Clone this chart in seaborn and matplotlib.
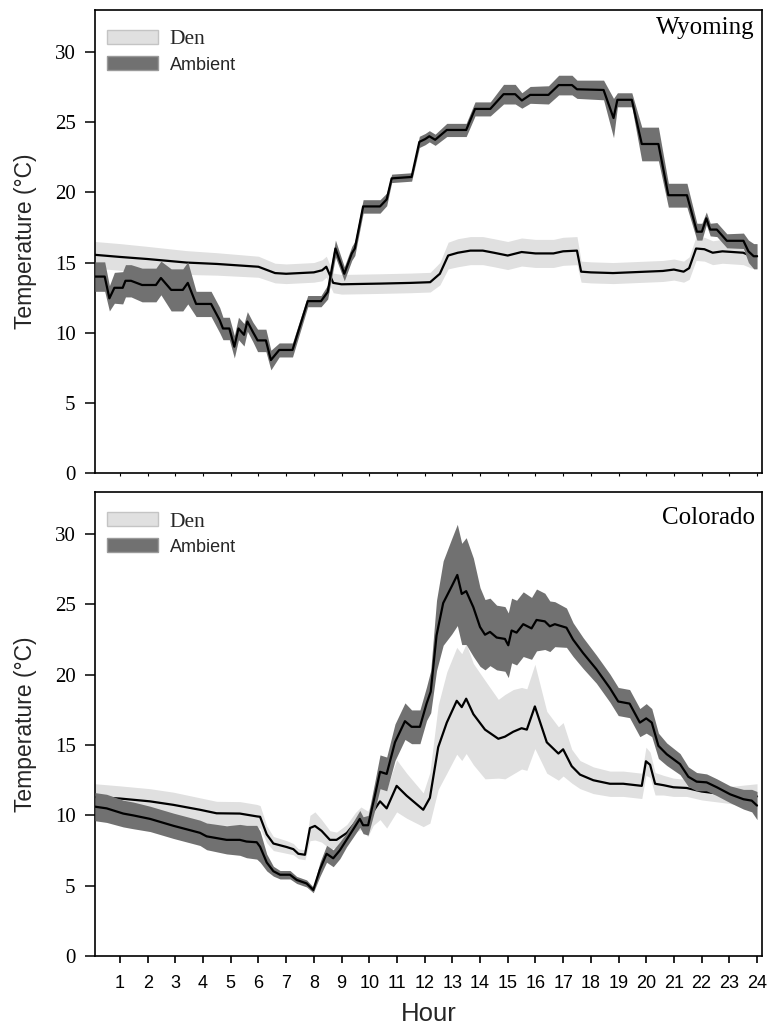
import numpy as np
import pandas as pd
import matplotlib
matplotlib.use("Agg")
import matplotlib.pyplot as plt
import seaborn as sns
from matplotlib.patches import Patch
from matplotlib import font_manager

# ---------------- data ----------------
panel_names = ["Wyoming", "Colorado"]
series_names = ["Den", "Ambient"]
y_ticks = [0, 5, 10, 15, 20, 25, 30]
x_ticks = list(range(1, 25))
x_tick_labels = [str(h) for h in x_ticks]

# Wyoming - Den
wy_den_hour = [0.1, 1.0, 2.0, 3.4, 4.5, 6.0, 6.6, 7.0, 8.0, 8.3, 8.45, 8.7, 9.0, 10.4, 11.5, 12.2,
               12.55, 12.85, 13.2, 13.65, 14.1, 14.5, 15.0, 15.5, 16.0, 16.65, 17.0, 17.5, 17.65,
               18.0, 18.8, 20.0, 20.6, 21.0, 21.35, 21.55, 21.8, 22.1, 22.4, 22.75, 23.5, 23.8, 24.0]
wy_den_mean = [15.55, 15.4, 15.25, 15.0, 14.9, 14.7, 14.25, 14.2, 14.3, 14.45, 14.7, 13.55, 13.45,
               13.5, 13.55, 13.6, 14.2, 15.5, 15.7, 15.85, 15.85, 15.7, 15.5, 15.75, 15.65, 15.65,
               15.8, 15.85, 14.35, 14.3, 14.25, 14.35, 14.4, 14.5, 14.35, 14.6, 16.0, 15.95, 15.7,
               15.8, 15.7, 15.45, 15.45]
wy_den_sd = [0.95, 0.95, 0.9, 0.85, 0.8, 0.75, 0.7, 0.7, 0.7, 0.75, 0.75, 0.7, 0.7, 0.7, 0.7, 0.7,
             0.8, 0.95, 1.0, 1.0, 1.0, 1.0, 1.0, 1.0, 1.0, 1.0, 1.0, 1.0, 0.75, 0.75, 0.75, 0.75,
             0.75, 0.75, 0.75, 0.8, 0.85, 0.85, 0.85, 0.85, 0.85, 0.85, 0.85]

# Wyoming - Ambient
wy_amb_hour = [0.1, 0.45, 0.62, 0.8, 1.1, 1.2, 1.4, 1.8, 2.3, 2.48, 2.85, 3.27, 3.45, 3.75, 4.29,
               4.6, 4.72, 4.95, 5.13, 5.28, 5.48, 5.6, 5.8, 5.97, 6.27, 6.45, 6.75, 7.23, 7.78,
               8.26, 8.5, 8.78, 9.1, 9.37, 9.48, 9.78, 10.39, 10.63, 10.81, 11.53, 11.81, 12.02,
               12.17, 12.38, 12.8, 13.5, 13.82, 14.37, 14.85, 15.27, 15.51, 15.81, 16.47, 16.84,
               17.32, 17.5, 18.46, 18.82, 18.96, 19.48, 19.84, 20.44, 20.8, 21.47, 21.83, 22.01,
               22.17, 22.31, 22.55, 22.91, 23.51, 23.69, 23.88, 24.0]
wy_amb_mean = [14.0, 14.0, 12.45, 13.2, 13.2, 13.7, 13.7, 13.4, 13.4, 13.9, 13.05, 13.05, 13.55,
               12.05, 12.05, 10.9, 10.3, 10.3, 9.0, 10.3, 9.85, 10.8, 10.05, 9.45, 9.45, 8.05,
               8.77, 8.77, 12.25, 12.25, 12.9, 16.0, 14.2, 15.65, 16.0, 19.0, 19.0, 19.5, 21.0,
               21.1, 23.6, 23.8, 24.0, 23.75, 24.45, 24.45, 25.95, 25.95, 27.0, 27.0, 26.55,
               26.95, 26.95, 27.65, 27.65, 27.35, 27.3, 25.3, 26.6, 26.6, 23.45, 23.45, 19.8,
               19.8, 17.2, 17.2, 18.15, 17.35, 17.35, 16.55, 16.55, 15.8, 15.45, 15.45]
wy_amb_sd = [1.05, 1.05, 0.9, 1.1, 1.15, 1.15, 1.15, 1.2, 1.2, 1.2, 1.5, 1.5, 1.5, 0.9, 0.9,
             0.9, 0.8, 0.8, 0.8, 0.8, 0.8, 0.7, 0.7, 0.8, 0.8, 0.7, 0.5, 0.5, 0.4, 0.4, 0.5,
             0.6, 0.5, 0.5, 0.5, 0.48, 0.48, 0.45, 0.3, 0.3, 0.4, 0.4, 0.4, 0.4, 0.47, 0.47,
             0.5, 0.5, 0.7, 0.7, 0.55, 0.6, 0.65, 0.7, 0.7, 0.65, 0.7, 1.4, 0.5, 0.5, 1.2, 1.2,
             0.85, 0.85, 0.6, 0.6, 0.45, 0.45, 0.5, 0.5, 0.55, 0.8, 0.9, 0.9]

# Colorado - Den
co_den_hour = [0.1, 1.0, 2.08, 2.93, 3.89, 4.49, 5.33, 5.94, 6.06, 6.3, 6.54, 7.02, 7.26, 7.44,
               7.68, 7.86, 8.04, 8.28, 8.58, 8.82, 9.19, 9.5, 9.7, 9.95, 10.15, 10.39, 10.63,
               10.99, 11.35, 11.95, 12.19, 12.49, 12.8, 13.16, 13.34, 13.5, 13.76, 14.18, 14.66,
               14.9, 15.2, 15.5, 15.69, 15.98, 16.41, 16.83, 17.0, 17.31, 17.61, 18.09, 18.69,
               19.17, 19.84, 19.99, 20.14, 20.32, 20.62, 20.98, 21.46, 22.0, 23.0, 24.0]
co_den_mean = [11.3, 11.2, 11.0, 10.75, 10.4, 10.15, 10.13, 9.93, 9.9, 8.65, 8.0, 7.75, 7.6,
               7.27, 7.2, 9.1, 9.25, 8.9, 8.26, 8.26, 8.75, 9.5, 9.8, 9.4, 10.3, 11.0, 10.5,
               12.1, 11.4, 10.4, 11.25, 14.85, 16.6, 18.15, 17.7, 18.3, 17.2, 16.1, 15.45, 15.6,
               15.95, 16.2, 16.1, 17.75, 15.2, 14.4, 14.7, 13.5, 12.9, 12.5, 12.25, 12.25, 12.1,
               13.85, 13.6, 12.25, 12.15, 12.0, 11.95, 11.7, 11.45, 11.35]
co_den_sd = [0.95, 0.9, 0.9, 0.9, 0.85, 0.85, 0.85, 0.85, 0.8, 0.6, 0.5, 0.45, 0.4, 0.35, 0.35,
             0.9, 1.0, 0.8, 0.65, 0.55, 0.6, 0.7, 0.8, 0.9, 1.0, 1.3, 1.4, 1.85, 1.6, 1.2, 1.8,
             3.0, 3.6, 3.8, 3.8, 3.9, 3.6, 3.5, 2.8, 3.0, 3.0, 2.9, 2.9, 3.0, 2.2, 1.9, 1.9, 1.2,
             1.0, 0.95, 0.9, 0.9, 0.9, 1.0, 0.9, 0.8, 0.7, 0.65, 0.6, 0.6, 0.6, 0.9]

# Colorado - Ambient
co_amb_hour = [0.1, 0.52, 1.12, 1.48, 2.09, 2.93, 3.89, 4.13, 4.85, 5.33, 5.57, 5.94, 6.06, 6.3,
               6.54, 6.78, 7.14, 7.38, 7.74, 7.98, 8.22, 8.46, 8.7, 8.94, 9.18, 9.42, 9.66, 9.78,
               9.96, 10.2, 10.39, 10.63, 10.93, 11.29, 11.53, 11.83, 12.07, 12.22, 12.43, 12.67,
               12.98, 13.18, 13.34, 13.5, 13.76, 14.0, 14.18, 14.36, 14.6, 14.9, 15.02, 15.14,
               15.32, 15.56, 15.86, 16.04, 16.34, 16.52, 16.7, 17.12, 17.36, 17.72, 18.2, 18.69,
               18.99, 19.4, 19.77, 20.0, 20.2, 20.44, 20.74, 21.22, 21.52, 21.82, 22.18, 22.55,
               23.03, 23.51, 23.81, 24.0]
co_amb_mean = [10.62, 10.5, 10.13, 10.0, 9.75, 9.26, 8.76, 8.51, 8.26, 8.26, 8.14, 8.09, 7.77,
               6.65, 6.03, 5.78, 5.78, 5.41, 5.16, 4.7, 6.16, 7.27, 6.95, 7.52, 8.26, 9.0, 9.75,
               9.3, 9.3, 11.37, 13.1, 12.95, 15.2, 16.7, 16.3, 16.3, 17.95, 18.8, 22.8, 25.1,
               26.3, 27.1, 25.75, 25.95, 24.8, 23.4, 22.85, 23.05, 22.65, 22.55, 22.1, 23.15,
               23.0, 23.6, 23.3, 23.9, 23.8, 23.45, 23.6, 23.35, 22.5, 21.55, 20.4, 19.05, 18.1,
               17.95, 16.6, 16.9, 16.6, 14.95, 14.35, 13.65, 12.75, 12.4, 12.35, 12.0, 11.5,
               11.15, 11.05, 10.7]
co_amb_sd = [1.0, 1.0, 0.95, 0.95, 0.9, 0.9, 0.9, 0.95, 1.0, 1.1, 1.15, 1.2, 1.1, 0.6, 0.35, 0.3,
             0.3, 0.25, 0.25, 0.2, 0.5, 0.6, 0.6, 0.6, 0.5, 0.55, 0.6, 0.6, 0.7, 1.0, 1.2, 1.2,
             1.3, 1.3, 1.2, 1.2, 1.2, 1.5, 2.5, 3.0, 3.4, 3.6, 3.6, 3.8, 3.5, 2.8, 2.5, 2.4, 2.3,
             2.3, 2.3, 2.3, 2.3, 2.3, 2.2, 2.2, 2.0, 1.8, 1.6, 1.4, 1.2, 1.1, 1.0, 1.0, 1.0, 1.0,
             1.0, 1.05, 1.0, 0.9, 0.8, 0.75, 0.7, 0.65, 0.6, 0.6, 0.6, 0.7, 0.8, 1.0]

# ---------------- style ----------------
DEN_FILL = "#e0e0e0"
AMB_FILL = "#717171"
SERIF = ["Liberation Serif", "DejaVu Serif"]
SANS = ["Liberation Sans", "DejaVu Sans"]
_installed = {f.name for f in font_manager.fontManager.ttflist}
NARROW = (["Liberation Sans Narrow"] if "Liberation Sans Narrow" in _installed else []) + SANS

sns.set_theme(style="ticks")
plt.rcParams["font.family"] = SANS
plt.rcParams["axes.edgecolor"] = "black"
plt.rcParams["axes.linewidth"] = 1.2
plt.rcParams["xtick.color"] = "black"
plt.rcParams["ytick.color"] = "black"

fig = plt.figure(figsize=(7.75, 10.25), dpi=100)
W, H = 775.0, 1025.0
ax_top = fig.add_axes([95 / W, 1 - 473 / H, 667 / W, 463 / H])
ax_bot = fig.add_axes([95 / W, 1 - 956 / H, 667 / W, 464 / H])


def draw_panel(ax, name, den, amb, title_y, show_xlabels):
    d = pd.DataFrame({"hour": den[0], "mean": den[1], "sd": den[2]})
    a = pd.DataFrame({"hour": amb[0], "mean": amb[1], "sd": amb[2]})
    ax.fill_between(d["hour"], d["mean"] - d["sd"], d["mean"] + d["sd"],
                    color=DEN_FILL, lw=0, zorder=1)
    sns.lineplot(data=d, x="hour", y="mean", ax=ax, color="black", lw=1.6,
                 estimator=None, sort=False, zorder=2)
    ax.fill_between(a["hour"], a["mean"] - a["sd"], a["mean"] + a["sd"],
                    color=AMB_FILL, lw=0, zorder=3)
    sns.lineplot(data=a, x="hour", y="mean", ax=ax, color="black", lw=1.6,
                 estimator=None, sort=False, zorder=4)

    ax.set_xlim(0.1, 24.18)
    ax.set_ylim(0, 33)
    ax.set_yticks(y_ticks)
    ax.set_yticklabels([str(v) for v in y_ticks], fontfamily=SERIF, fontsize=15)
    ax.set_xticks(x_ticks)
    ax.tick_params(axis="y", direction="out", length=7, width=1.1, pad=7)
    if show_xlabels:
        ax.set_xticklabels(x_tick_labels, fontfamily=NARROW, fontsize=13)
        ax.tick_params(axis="x", direction="out", length=5, width=1.2, pad=9)
        ax.set_xlabel("Hour", fontsize=18.5, labelpad=7, fontfamily=SANS)
    else:
        ax.tick_params(axis="x", direction="out", length=2, width=0.8, labelbottom=False)
        ax.set_xlabel("")
    ax.set_ylabel("Temperature (°C)", fontsize=16.5, labelpad=13, fontfamily=SANS)
    for sp in ax.spines.values():
        sp.set_visible(True)
        sp.set_color("black")
        sp.set_linewidth(1.2)

    ax.text(0.9895, title_y, name, transform=ax.transAxes, ha="right", va="center",
            fontsize=18, fontfamily=SERIF, color="black")

    handles = [Patch(facecolor=DEN_FILL, edgecolor="#c4c4c4", lw=1.0),
               Patch(facecolor=AMB_FILL, edgecolor="#9a9a9a", lw=1.0)]
    leg = ax.legend(handles, series_names, loc="upper left", frameon=False,
                    bbox_to_anchor=(12 / 667, 1 - 20 / 463), borderpad=0, borderaxespad=0,
                    handlelength=2.45, handleheight=0.68, handletextpad=0.55,
                    labelspacing=0.3, fontsize=15)
    txts = leg.get_texts()
    txts[0].set_fontfamily(SERIF)
    txts[0].set_fontsize(15.5)
    txts[1].set_fontfamily(SANS)
    txts[1].set_fontsize(13)


draw_panel(ax_top, panel_names[0], (wy_den_hour, wy_den_mean, wy_den_sd),
           (wy_amb_hour, wy_amb_mean, wy_amb_sd), 1 - 18 / 463, False)
draw_panel(ax_bot, panel_names[1], (co_den_hour, co_den_mean, co_den_sd),
           (co_amb_hour, co_amb_mean, co_amb_sd), 1 - 26 / 464, True)

fig.savefig("out.png", dpi=100, facecolor="white")
